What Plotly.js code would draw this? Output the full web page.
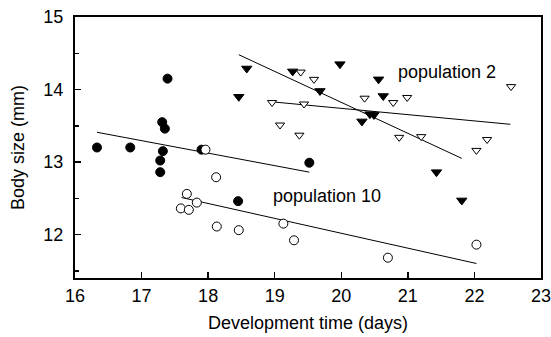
<!DOCTYPE html>
<html>
<head>
<meta charset="utf-8">
<script src="https://cdn.plot.ly/plotly-3.0.1.min.js"></script>
<style>html,body{margin:0;padding:0;background:#fff;}#chart{width:551px;height:337px;}</style>
</head>
<body>
<div id="chart"></div>
<script>
// Population 10: filled circles
const circFilledX = [16.33, 16.83, 17.28, 17.28, 17.32, 17.31, 17.35, 17.39, 17.90, 18.45, 19.52];
const circFilledY = [13.20, 13.20, 12.86, 13.02, 13.15, 13.55, 13.46, 14.15, 13.17, 12.46, 12.99];
// Population 10: open circles
const circOpenX = [17.96, 18.12, 17.68, 17.83, 17.59, 17.71, 18.13, 18.46, 19.13, 19.29, 20.70, 22.03];
const circOpenY = [13.17, 12.79, 12.56, 12.44, 12.36, 12.34, 12.11, 12.06, 12.15, 11.92, 11.68, 11.86];
// Population 2: filled triangles
const triFilledX = [18.46, 18.58, 19.27, 19.68, 19.98, 20.31, 20.43, 20.49, 20.56, 20.63, 21.43, 21.81];
const triFilledY = [13.90, 14.29, 14.25, 13.98, 14.35, 13.56, 13.66, 13.65, 14.14, 13.91, 12.86, 12.47];
// Population 2: open triangles
const triOpenX = [18.96, 19.08, 19.37, 19.39, 19.44, 19.59, 20.35, 20.78, 20.87, 20.99, 21.20, 22.03, 22.19, 22.55];
const triOpenY = [13.82, 13.51, 13.37, 14.24, 13.80, 14.14, 13.88, 13.82, 13.34, 13.89, 13.35, 13.16, 13.31, 14.04];
// Fitted lines (endpoints)
const fitCircFilledX = [16.33, 19.52];
const fitCircFilledY = [13.41, 12.86];
const fitCircOpenX = [17.60, 22.03];
const fitCircOpenY = [12.51, 11.60];
const fitTriFilledX = [18.46, 21.81];
const fitTriFilledY = [14.48, 13.05];
const fitTriOpenX = [18.96, 22.54];
const fitTriOpenY = [13.83, 13.52];
const labels = ["population 2", "population 10"];
const labelX = [20.82, 18.95];
const labelY = [14.24, 12.53];
const xTicks = [16, 17, 18, 19, 20, 21, 22, 23];
const yTicks = [12, 13, 14, 15];

const lineStyle = {color: '#000', width: 1};
const traces = [
  {x: fitCircFilledX, y: fitCircFilledY, mode: 'lines', line: lineStyle},
  {x: fitCircOpenX, y: fitCircOpenY, mode: 'lines', line: lineStyle},
  {x: fitTriFilledX, y: fitTriFilledY, mode: 'lines', line: lineStyle},
  {x: fitTriOpenX, y: fitTriOpenY, mode: 'lines', line: lineStyle},
  {x: circFilledX, y: circFilledY, mode: 'markers',
   marker: {symbol: 'circle', size: 9, color: '#000', line: {color: '#000', width: 1}}},
  {x: circOpenX, y: circOpenY, mode: 'markers',
   marker: {symbol: 'circle', size: 9, color: '#fff', line: {color: '#000', width: 1}}},
  {x: triFilledX, y: triFilledY, mode: 'markers',
   marker: {symbol: 'triangle-down', size: 9, color: '#000', line: {color: '#000', width: 1}}},
  {x: triOpenX, y: triOpenY, mode: 'markers',
   marker: {symbol: 'triangle-down', size: 8, color: '#fff', line: {color: '#000', width: 1}}}
];

const font = {family: 'Liberation Sans, Arial, sans-serif', size: 18, color: '#000'};
const layout = {
  width: 551, height: 337,
  margin: {l: 75, r: 10, t: 17, b: 59, pad: 0},
  paper_bgcolor: '#fff', plot_bgcolor: '#fff',
  showlegend: false,
  font: font,
  xaxis: {
    range: [16, 23], tickvals: xTicks, ticktext: xTicks.map(String),
    ticks: 'inside', ticklen: 6, tickwidth: 1.5, tickcolor: '#000',
    showline: true, linecolor: '#000', linewidth: 2, mirror: true,
    showgrid: false, zeroline: false, ticklabeloverflow: 'allow',
    tickfont: font, ticklabelstandoff: 0,
    title: {text: 'Development time (days)', font: font, standoff: 12}
  },
  yaxis: {
    range: [11.4, 15], tickvals: yTicks, ticktext: yTicks.map(String),
    ticks: 'inside', ticklen: 6, tickwidth: 1.5, tickcolor: '#000',
    minor: {dtick: 0.5, tick0: 11.5, ticks: 'inside', ticklen: 4, tickwidth: 1.5, tickcolor: '#000', showgrid: false},
    showline: true, linecolor: '#000', linewidth: 2, mirror: true,
    showgrid: false, zeroline: false, ticklabeloverflow: 'allow',
    tickfont: font, ticklabelstandoff: 6,
    title: {text: 'Body size (mm)', font: font, standoff: 14}
  },
  annotations: labels.map((t, i) => ({
    x: labelX[i], y: labelY[i], xref: 'x', yref: 'y', text: t,
    showarrow: false, xanchor: 'left', yanchor: 'middle', font: font
  }))
};
Plotly.newPlot('chart', traces, layout, {staticPlot: true, displayModeBar: false});
</script>
</body>
</html>
